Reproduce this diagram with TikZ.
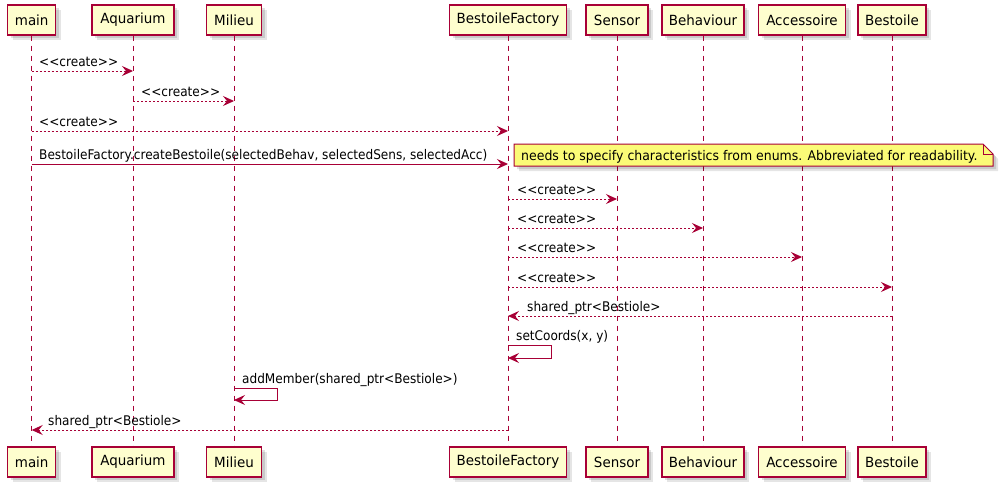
\documentclass[tikz,border=0pt]{standalone}
\usepackage{fontspec}
\setmainfont{DejaVu Sans}
\newfontfamily\pfont[FakeStretch=0.96]{DejaVu Sans}
\newfontfamily\mfont[FakeStretch=0.91]{DejaVu Sans}
\newfontfamily\nfont[FakeStretch=0.94]{DejaVu Sans}
\usetikzlibrary{arrows.meta,shadows,calc}
\definecolor{plred}{HTML}{A80036}
\definecolor{plbox}{HTML}{FEFECE}
\definecolor{plnote}{HTML}{FBFB77}
\tikzset{
  pshadow/.style={drop shadow={shadow xshift=3pt,shadow yshift=-3pt,fill=black,opacity=0.12},
                  drop shadow={shadow xshift=5pt,shadow yshift=-5pt,fill=black,opacity=0.10}},
  pbox/.style={draw=plred, fill=plbox, line width=1.4pt, minimum height=30pt, inner sep=0pt,
     font=\pfont\fontsize{14}{16}\selectfont, pshadow},
  life/.style={draw=plred, line width=0.8pt, dash pattern=on 5pt off 5pt},
  tip/.style={-{Stealth[length=11pt,width=10pt,inset=4pt]}},
  msg/.style={draw=plred, line width=1pt, tip},
  msgd/.style={msg, dash pattern=on 2pt off 2pt},
  lbl/.style={font=\mfont\fontsize{13.3}{15}\selectfont, inner sep=0pt, anchor=base west, text=black},
  nlbl/.style={lbl, font=\nfont\fontsize{13.3}{15}\selectfont},
  notebox/.style={draw=plred, fill=plnote, line width=1pt, pshadow}
}
\begin{document}
\begin{tikzpicture}[x=1pt,y=-1pt]
\useasboundingbox[fill=white] (0,0) rectangle (999,490);
% participants (top)
\node[pbox, minimum width=48pt] (mainT) at (31.7,20) {main};
\node[pbox, minimum width=82pt] (aqT) at (133,20) {Aquarium};
\node[pbox, minimum width=55pt] (milT) at (234,20) {Milieu};
\node[pbox, minimum width=117pt] (facT) at (508,20) {BestoileFactory};
\node[pbox, minimum width=62pt] (senT) at (617,20) {Sensor};
\node[pbox, minimum width=82pt] (behT) at (703,20) {Behaviour};
\node[pbox, minimum width=87pt] (accT) at (802,20) {Accessoire};
\node[pbox, minimum width=68pt] (besT) at (892,20) {Bestoile};
% participants (bottom)
\node[pbox, minimum width=48pt] (mainB) at (31.7,462) {main};
\node[pbox, minimum width=82pt] (aqB) at (133,462) {Aquarium};
\node[pbox, minimum width=55pt] (milB) at (234,462) {Milieu};
\node[pbox, minimum width=117pt] (facB) at (508,462) {BestoileFactory};
\node[pbox, minimum width=62pt] (senB) at (617,462) {Sensor};
\node[pbox, minimum width=82pt] (behB) at (703,462) {Behaviour};
\node[pbox, minimum width=87pt] (accB) at (802,462) {Accessoire};
\node[pbox, minimum width=68pt] (besB) at (892,462) {Bestoile};
% lifelines
\foreach \p in {main,aq,mil,fac,sen,beh,acc,bes}
  \draw[life] (\p T.south) -- (\p B.north);
% messages
\draw[msgd] (mainT |- 0,71) -- (aqT |- 0,71);
\node[lbl] (l1) at (39,66.5) {<{}<create>{}>};
\draw[msgd] (aqT |- 0,101) -- (milT |- 0,101);
\node[lbl] (l2) at (141,96.5) {<{}<create>{}>};
\draw[msgd] (mainT |- 0,131) -- (facT |- 0,131);
\node[lbl] (l3) at (39,126.5) {<{}<create>{}>};
\draw[msg] (mainT |- 0,164) -- (facT |- 0,164);
\node[lbl] (l4) at (39,159.5) {BestoileFactory.createBestoile(selectedBehav, selectedSens, selectedAcc)};
% note
\draw[notebox] (514,144) -- (983,144) -- (993,154) -- (993,166) -- (514,166) -- cycle;
\draw[draw=plred, line width=1pt] (983,144) -- (983,154) -- (993,154);
\node[nlbl] (note) at (521,160) {needs to specify characteristics from enums. Abbreviated for readability.};
% factory creations
\draw[msgd] (facT |- 0,199) -- (senT |- 0,199);
\node[lbl] (l5) at (517,194.5) {<{}<create>{}>};
\draw[msgd] (facT |- 0,228) -- (behT |- 0,228);
\node[lbl] (l6) at (517,223.5) {<{}<create>{}>};
\draw[msgd] (facT |- 0,257) -- (accT |- 0,257);
\node[lbl] (l7) at (517,252.5) {<{}<create>{}>};
\draw[msgd] (facT |- 0,287) -- (besT |- 0,287);
\node[lbl] (l8) at (517,282.5) {<{}<create>{}>};
\draw[msgd] (besT |- 0,316) -- (facT |- 0,316);
\node[lbl] (l9) at (527,311.5) {shared\_ptr<Bestiole>};
% self calls
\draw[msg] (facT |- 0,345) -- ++(43,0) -- ++(0,13) -- (facT |- 0,358);
\node[lbl] (l10) at (516,340.5) {setCoords(x, y)};
\draw[msg] (milT |- 0,388) -- ++(43,0) -- ++(0,12) -- (milT |- 0,400);
\node[lbl] (l11) at (242,383.5) {addMember(shared\_ptr<Bestiole>)};
\draw[msgd] (facT |- 0,430) -- (mainT |- 0,430);
\node[lbl] (l12) at (48,425.5) {shared\_ptr<Bestiole>};
\end{tikzpicture}
\end{document}
